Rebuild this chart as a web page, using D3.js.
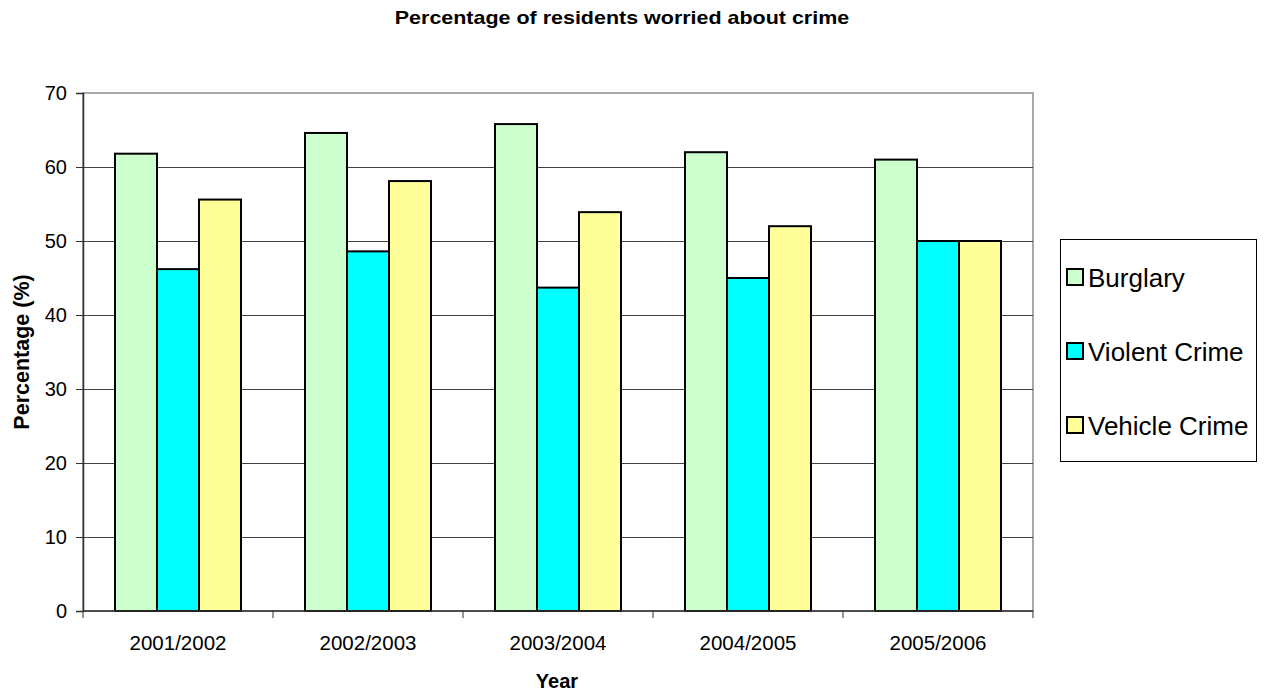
<!DOCTYPE html>
<html>
<head>
<meta charset="utf-8">
<script src="https://cdn.jsdelivr.net/npm/d3@7"></script>
<style>
  body { margin: 0; background: #fff; }
  svg { display: block; font-family: Arial, "Liberation Sans", sans-serif; }
</style>
</head>
<body>
<svg id="chart" width="1264" height="691"></svg>
<script>
// Survey years and the share of residents worried about each crime type
const years = ["2001/2002", "2002/2003", "2003/2004", "2004/2005", "2005/2006"];
const seriesNames = ["Burglary", "Violent Crime", "Vehicle Crime"];
const burglary = [61.8, 64.6, 65.8, 62.0, 61.0];
const violentCrime = [46.2, 48.6, 43.7, 45.0, 50.0];
const vehicleCrime = [55.6, 58.1, 53.9, 52.0, 50.0];
const yTicks = [0, 10, 20, 30, 40, 50, 60, 70];
const colors = ["#CCFFCC", "#00FFFF", "#FFFF99"];

const seriesValues = [burglary, violentCrime, vehicleCrime];
const rows = years.map((yr, i) => ({
  year: yr,
  values: seriesNames.map((s, j) => ({ key: s, value: seriesValues[j][i] }))
}));

const svg = d3.select("#chart");
const plot = { left: 83, top: 93, right: 1033, bottom: 611 };

const x = d3.scaleBand().domain(years).range([plot.left, plot.right]).paddingInner(0).paddingOuter(0);
const inner = d3.scaleBand().domain(seriesNames).range([0, x.bandwidth()]).paddingInner(0).paddingOuter(0.762);
const y = d3.scaleLinear().domain([0, 70]).range([plot.bottom, plot.top]);

// Title (slightly widened lettering)
svg.append("text")
  .attr("transform", "translate(622,24) scale(1.13,1)")
  .attr("text-anchor", "middle")
  .attr("font-size", 19).attr("font-weight", "bold")
  .text("Percentage of residents worried about crime");

// Plot frame
svg.append("rect")
  .attr("x", plot.left).attr("y", plot.top)
  .attr("width", plot.right - plot.left).attr("height", plot.bottom - plot.top)
  .attr("fill", "none").attr("stroke", "#8c8c8c").attr("stroke-width", 1.5);

// Horizontal gridlines
svg.append("g")
  .selectAll("line")
  .data(yTicks.filter(t => t > 0 && t < 70))
  .join("line")
  .attr("x1", plot.left).attr("x2", plot.right)
  .attr("y1", d => Math.round(y(d)) + 0.5).attr("y2", d => Math.round(y(d)) + 0.5)
  .attr("stroke", "#404040").attr("stroke-width", 1);

// Bars
const groups = svg.append("g")
  .selectAll("g")
  .data(rows)
  .join("g")
  .attr("transform", d => `translate(${x(d.year)},0)`);

groups.selectAll("rect")
  .data(d => d.values)
  .join("rect")
  .attr("x", d => inner(d.key))
  .attr("width", inner.bandwidth())
  .attr("y", d => y(d.value))
  .attr("height", d => y(0) - y(d.value))
  .attr("fill", (d, i) => colors[i])
  .attr("stroke", "#000").attr("stroke-width", 2);

// Y axis
const yAxis = svg.append("g")
  .attr("transform", `translate(${plot.left},0)`)
  .call(d3.axisLeft(y).tickValues(yTicks).tickSize(7).tickPadding(9).tickFormat(d3.format("d")));
yAxis.select(".domain").attr("stroke", "#303030").attr("stroke-width", 1.5);
yAxis.selectAll(".tick line").attr("stroke", "#303030");
yAxis.selectAll("text")
  .attr("font-size", 20).attr("fill", "#000")
  .attr("font-family", "Arial, 'Liberation Sans', sans-serif");

// X axis with ticks between categories
const xAxisG = svg.append("g").attr("transform", `translate(0,${plot.bottom})`);
xAxisG.append("line")
  .attr("x1", plot.left).attr("x2", plot.right)
  .attr("stroke", "#303030").attr("stroke-width", 1.5);
xAxisG.selectAll("line.tick")
  .data(years.map(d => x(d)).concat([plot.right]))
  .join("line")
  .attr("class", "tick")
  .attr("x1", d => d).attr("x2", d => d)
  .attr("y1", 0).attr("y2", 7)
  .attr("stroke", "#303030");
xAxisG.selectAll("text")
  .data(years)
  .join("text")
  .attr("x", d => x(d) + x.bandwidth() / 2)
  .attr("y", 38.5)
  .attr("text-anchor", "middle")
  .attr("font-size", 20.5)
  .text(d => d);

// Axis titles
svg.append("text")
  .attr("x", 557).attr("y", 688)
  .attr("text-anchor", "middle")
  .attr("font-size", 20).attr("font-weight", "bold")
  .text("Year");

svg.append("text")
  .attr("transform", `translate(29,${(plot.top + plot.bottom) / 2}) rotate(-90)`)
  .attr("text-anchor", "middle")
  .attr("font-size", 21.5).attr("font-weight", "bold")
  .text("Percentage (%)");

// Legend
const legend = svg.append("g");
legend.append("rect")
  .attr("x", 1060.5).attr("y", 239.5)
  .attr("width", 196).attr("height", 222)
  .attr("fill", "#fff").attr("stroke", "#000").attr("stroke-width", 1);

const legendItems = legend.selectAll("g")
  .data(seriesNames)
  .join("g")
  .attr("transform", (d, i) => `translate(1067,${277 + i * 74})`);
legendItems.append("rect")
  .attr("x", 0).attr("y", -8)
  .attr("width", 16).attr("height", 16)
  .attr("fill", (d, i) => colors[i])
  .attr("stroke", "#000").attr("stroke-width", 2);
legendItems.append("text")
  .attr("x", 21).attr("y", 9.5)
  .attr("font-size", 26)
  .text(d => d);
</script>
</body>
</html>
